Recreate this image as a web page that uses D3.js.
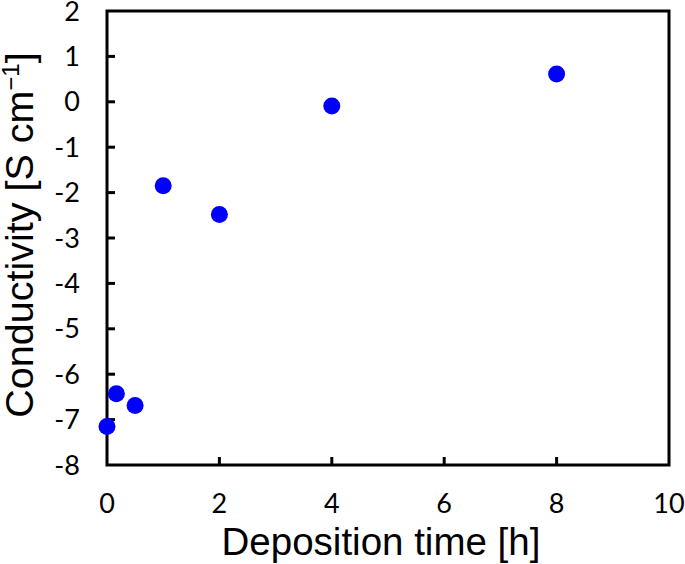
<!DOCTYPE html>
<html>
<head>
<meta charset="utf-8">
<script src="https://cdn.jsdelivr.net/npm/d3@7"></script>
<style>
  body { margin: 0; background: #fff; }
  text { fill: #000; }
  .tick-label { font-family: Lato, "Open Sans", sans-serif; }
  .title { font-family: "Liberation Sans", Arial, sans-serif; }
</style>
</head>
<body>
<svg id="chart" width="685" height="564"></svg>
<script>
// deposition time [h] and log conductivity
var times = [0, 0.167, 0.5, 1, 2, 4, 8];
var conductivity = [-7.15, -6.43, -6.69, -1.85, -2.48, -0.09, 0.61];
var xTicks = [0, 2, 4, 6, 8, 10];
var yTicks = [-8, -7, -6, -5, -4, -3, -2, -1, 0, 1, 2];

var svg = d3.select("#chart");
var plotLeft = 107, plotRight = 669, plotTop = 11, plotBottom = 465;

var x = d3.scaleLinear().domain([0, 10]).range([plotLeft, plotRight]);
var y = d3.scaleLinear().domain([-8, 2]).range([plotBottom, plotTop]);

// frame
svg.append("rect")
  .attr("x", plotLeft).attr("y", plotTop)
  .attr("width", plotRight - plotLeft).attr("height", plotBottom - plotTop)
  .attr("fill", "none").attr("stroke", "#000").attr("stroke-width", 3);

// inward ticks
svg.selectAll(".xt")
  .data(xTicks.filter((d) => d > 0 && d < 10))
  .enter().append("line")
  .attr("x1", (d) => x(d)).attr("x2", (d) => x(d))
  .attr("y1", plotBottom).attr("y2", plotBottom - 8)
  .attr("stroke", "#000").attr("stroke-width", 3);

svg.selectAll(".yt")
  .data(yTicks.filter((d) => d > -8 && d < 2))
  .enter().append("line")
  .attr("x1", plotLeft).attr("x2", plotLeft + 8)
  .attr("y1", (d) => y(d)).attr("y2", (d) => y(d))
  .attr("stroke", "#000").attr("stroke-width", 3);

// tick labels
svg.selectAll(".xl")
  .data(xTicks)
  .enter().append("text")
  .attr("class", "tick-label")
  .attr("x", (d) => x(d)).attr("y", plotBottom + 48)
  .attr("text-anchor", "middle")
  .style("font-size", "27px")
  .text((d) => d);

svg.selectAll(".yl")
  .data(yTicks)
  .enter().append("text")
  .attr("class", "tick-label")
  .attr("x", plotLeft - 27).attr("y", (d) => y(d) + 9.5)
  .attr("text-anchor", "end")
  .style("font-size", "27px")
  .text((d) => d);

// axis titles
svg.append("text")
  .attr("class", "title")
  .attr("x", 381).attr("y", 555)
  .attr("text-anchor", "middle")
  .style("font-size", "38.5px")
  .text("Deposition time [h]");

var yTitle = svg.append("text")
  .attr("class", "title")
  .attr("transform", "translate(33,235) rotate(-90)")
  .attr("text-anchor", "middle")
  .style("font-size", "39.5px");
yTitle.append("tspan").text("Conductivity [S cm");
yTitle.append("tspan").attr("dy", -14).style("font-size", "24px").text("\u22121");
yTitle.append("tspan").attr("dy", 14).text("]");

// points
svg.selectAll("circle")
  .data(times)
  .enter().append("circle")
  .attr("cx", (d) => x(d))
  .attr("cy", (d, i) => y(conductivity[i]))
  .attr("r", 8.5)
  .attr("fill", "#0000ff");
</script>
</body>
</html>
